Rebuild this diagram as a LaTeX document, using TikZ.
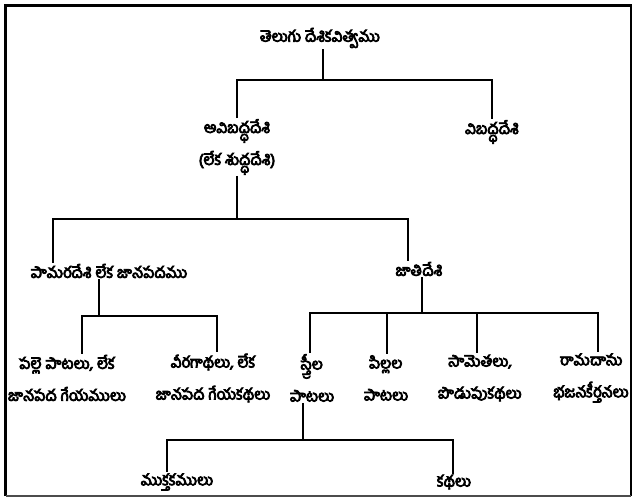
\documentclass[tikz,border=0pt]{standalone}
\usepackage{fontspec}
\newfontfamily\te[Script=Telugu, FakeBold=5, Scale=1.55]{Hind Guntur}
\begin{document}
\begin{tikzpicture}[x=1pt,y=-1pt,
  lbl/.style={font={\te\baselineskip=32pt\lineskiplimit=-30pt\lineskip=0pt}, align=center, inner sep=1pt},
  link/.style={line width=1.6pt}]
\useasboundingbox (0,0) rectangle (635,499);
\draw[line width=2.6pt] (5.5,496) -- (5.5,5.5) -- (631,5.5) -- (631,496);
\draw[line width=1.2pt, black!70] (5.5,496) -- (631,496);
% nodes
\node[lbl] (root) at (320,38) {తెలుగు దేశికవిత్వము};
\node[lbl] (avi) at (237,147) {అవిబద్ధదేశి\\(లేక శుద్ధదేశి)};
\node[lbl] (vi) at (492,132) {విబద్ధదేశి};
\node[lbl] (pa) at (109,271) {పామరదేశి లేక జానపదము};
\node[lbl] (ja) at (419,269) {జాతిదేశి};
\node[lbl] (pal) at (67,378) {పల్లె పాటలు, లేక\\జానపద గేయములు};
\node[lbl] (vira) at (213,378) {వీరగాథలు, లేక\\జానపద గేయకథలు};
\node[lbl] (stri) at (312,378) {స్త్రీల\\పాటలు};
\node[lbl] (pil) at (386,378) {పిల్లల\\పాటలు};
\node[lbl] (sam) at (480,378) {సామెతలు,\\పొడుపుకథలు};
\node[lbl] (ram) at (591,378) {రామదాసు\\భజనకీర్తనలు};
\node[lbl] (muk) at (177,482) {ముక్తకములు};
\node[lbl] (ka) at (454,482) {కథలు};
% column helpers
\coordinate (c53) at (53,0);
\coordinate (c408) at (408,0);
\coordinate (c82) at (82,0);
\coordinate (c217) at (217,0);
\coordinate (c310) at (310,0);
\coordinate (c387) at (387,0);
\coordinate (c477) at (477,0);
\coordinate (c598) at (598,0);
\coordinate (c167) at (167,0);
\coordinate (c453) at (453,0);
% bars
\coordinate (b0) at (323,80);
\coordinate (b1) at (237,219);
\coordinate (b2) at (99,316);
\coordinate (b3) at (422,313);
\coordinate (b4) at (303,440);
% connectors
\draw[link] (root.south -| b0) -- (b0);
\draw[link] (avi.north) |- (b0) -| (vi.north);
\draw[link] (avi.south) -- (b1);
\draw[link] (pa.north -| c53) |- (b1) -| (ja.north -| c408);
\draw[link] (pa.south -| b2) -- (b2);
\draw[link] (pal.north -| c82) |- (b2) -| (vira.north -| c217);
\draw[link] (ja.south -| b3) -- (b3);
\draw[link] (stri.north -| c310) |- (b3) -| (ram.north -| c598);
\draw[link] (b3 -| c387) -- (pil.north -| c387);
\draw[link] (b3 -| c477) -- (sam.north -| c477);
\draw[link] (stri.south -| b4) -- (b4);
\draw[link] (muk.north -| c167) |- (b4) -| (ka.north -| c453);
\end{tikzpicture}
\end{document}
